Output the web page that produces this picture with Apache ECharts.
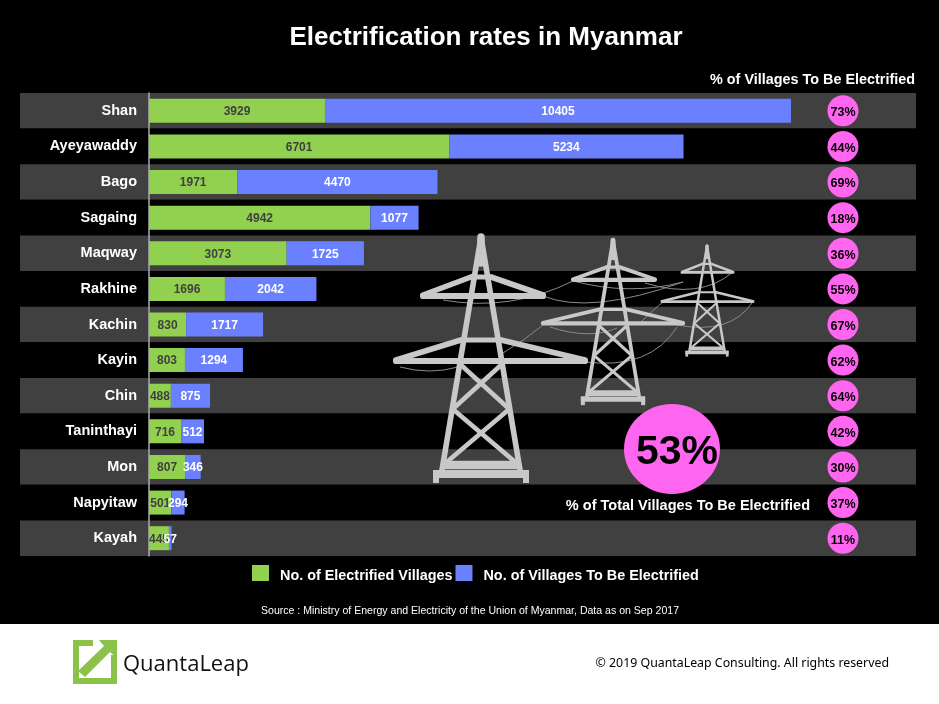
<!DOCTYPE html>
<html>
<head>
<meta charset="utf-8">
<title>Electrification rates in Myanmar</title>
<script src="https://cdn.jsdelivr.net/npm/echarts@6/dist/echarts.min.js"></script>
<style>
html,body{margin:0;padding:0;background:#000;}
#chart{width:939px;height:704px;}
</style>
</head>
<body>
<div id="chart"></div>
<script>
var regions = ['Shan','Ayeyawaddy','Bago','Sagaing','Maqway','Rakhine','Kachin','Kayin','Chin','Taninthayi','Mon','Napyitaw','Kayah'];
var electrified = [3929,6701,1971,4942,3073,1696,830,803,488,716,807,501,445];
var toElectrify = [10405,5234,4470,1077,1725,2042,1717,1294,875,512,346,294,57];
var pctToElectrify = [73,44,69,18,36,55,67,62,64,42,30,37,11];
var totalPct = 53;

var FONT = '"Liberation Sans", Arial, sans-serif';
var GREEN = '#92d050', BLUE = '#6a80ff', PINK = '#ff66f0', BAND = '#404040', TOWER = '#c8c8c8';
var PCT_COLUMN = 15495; // x position of the pink column, in axis units

// pylon: coordinates relative to apex at scale 1, arm tips given in screen px from apex
function tower(ax, ay, s, upL, upR, loL, loR) {
    var lw = 6.2 * s;
    var out = [];
    function ln(x1, y1, x2, y2, w) {
        out.push({type:'line', shape:{x1:ax+x1*s, y1:ay+y1*s, x2:ax+x2*s, y2:ay+y2*s},
            style:{stroke:TOWER, lineWidth:(w||1)*lw, lineCap:'round'}, z:1});
    }
    function arm(tipL, tipR, yb, ytop, hw) {
        ln(tipL/s, yb, tipR/s, yb, 1);
        ln(tipL/s, yb-1, -hw, ytop, .9);
        ln(tipR/s, yb-1, hw, ytop, .9);
        ln(-hw, ytop, hw, ytop, .8);
    }
    ln(0, 2, -39, 235, .9);
    ln(0, 2, 39, 235, .9);
    ln(0, 2, 0, 28, 1.2);
    arm(upL, upR, 61, 42, 10);
    arm(loL, loR, 126, 105, 20);
    // lattice
    ln(-20, 130, 26, 172, .75);
    ln(20, 130, -26, 172, .75);
    ln(-26, 176, 33, 226, .75);
    ln(26, 176, -33, 226, .75);
    ln(-36, 230, 36, 230, 1.4);
    out.push({type:'rect', shape:{x:ax-48*s, y:ay+235*s, width:96*s, height:8*s}, style:{fill:TOWER}, z:1});
    out.push({type:'rect', shape:{x:ax-48*s, y:ay+235*s, width:6*s, height:13*s}, style:{fill:TOWER}, z:1});
    out.push({type:'rect', shape:{x:ax+42*s, y:ay+235*s, width:6*s, height:13*s}, style:{fill:TOWER}, z:1});
    return out;
}

function wire(x1, y1, cx, cy, x2, y2) {
    return {type:'bezierCurve', shape:{x1:x1, y1:y1, x2:x2, y2:y2, cpx1:cx, cpy1:cy},
        style:{stroke:'#8a8a8a', lineWidth:1, fill:null}, z:1};
}

var graphics = [
    {type:'rect', shape:{x:0, y:624, width:939, height:80}, style:{fill:'#fff'}, z:1},
    wire(443,300, 510,312, 573,281),
    wire(543,296, 590,315, 683,282),
    wire(573,281, 630,296, 683,282),
    wire(645,283, 700,300, 733,272),
    wire(503,353, 525,340, 543,325),
    wire(400,367, 430,375, 458,367),
    wire(585,362, 650,370, 677,327),
    wire(550,327, 590,340, 617,328),
    wire(640,323, 655,308, 663,302),
    wire(677,325, 730,335, 752,303),
    // logo
    {type:'polyline', shape:{points:[[93,643],[76,643],[76,681],[114,681],[114,655]]}, style:{stroke:'#8cc24a', lineWidth:6, fill:null}, z:1},
    {type:'polygon', shape:{points:[[99,640],[117,640],[117,658],[110,652],[85,677],[78,671],[104,646]]}, style:{fill:'#8cc24a'}, z:1},
    {type:'text', style:{x:123, y:665, text:'QuantaLeap', fill:'#111', font:'22px "Open Sans", sans-serif', verticalAlign:'middle'}, z:1},
    {type:'text', style:{x:889, y:663, text:'\u00a9 2019 QuantaLeap Consulting. All rights reserved', fill:'#000', font:'12.35px "Noto Sans", sans-serif', align:'right', verticalAlign:'middle'}, z:1},
    // headers
    {type:'text', style:{x:915, y:80, text:'% of Villages To Be Electrified', fill:'#fff', font:'bold 14.4px ' + FONT, align:'right', verticalAlign:'middle'}, z:3},
    {type:'text', style:{x:810, y:506, text:'% of Total Villages To Be Electrified', fill:'#fff', font:'bold 14.5px ' + FONT, align:'right', verticalAlign:'middle'}, z:3},
    {type:'text', style:{x:470, y:611, text:'Source : Ministry of Energy and Electricity of the Union of Myanmar, Data as on Sep 2017', fill:'#fff', font:'10.55px ' + FONT, align:'center', verticalAlign:'middle'}, z:3},
    // big circle
    {type:'ellipse', shape:{cx:672, cy:449, rx:48, ry:45}, style:{fill:PINK}, z:3},
    {type:'text', style:{x:677, y:453, text:totalPct + '%', fill:'#000', font:'bold 41px ' + FONT, align:'center', verticalAlign:'middle'}, z:4}
];
graphics = graphics.concat(tower(481, 235, 1, -58, 62, -85, 104), tower(613, 239, 0.67, -40, 42, -70, 70), tower(707, 245, 0.45, -25, 26, -45, 46));

var chart = echarts.init(document.getElementById('chart'));
chart.setOption({
    backgroundColor: '#000',
    animation: false,
    title: {
        text: 'Electrification rates in Myanmar',
        left: 481, top: 20, textAlign: 'center',
        textStyle: {color:'#fff', fontFamily:FONT, fontWeight:'bold', fontSize:26}
    },
    legend: {
        left: 252, top: 565, padding: 0, itemWidth: 17, itemHeight: 16, itemGap: 3, icon: 'rect',
        data: ['No. of Electrified Villages', 'No. of Villages To Be Electrified'],
        formatter: function(name){ return '{t|' + name + '}'; },
        textStyle: {color:'#fff', padding:[0,0,0,6],
            rich:{t:{color:'#fff', fontFamily:FONT, fontWeight:'bold', fontSize:14.4, padding:[6,0,0,0]}}}
    },
    grid: [
        {left:20, top:93, width:896, height:463},
        {left:149, top:93, width:716.6, height:463}
    ],
    xAxis: [
        {gridIndex:0, type:'value', show:false},
        {gridIndex:1, type:'value', min:0, max:16000, show:false}
    ],
    yAxis: [
        {gridIndex:0, type:'category', data:regions, inverse:true,
         axisLine:{show:false}, axisTick:{show:false}, axisLabel:{show:false}, splitLine:{show:false},
         splitArea:{show:true, areaStyle:{color:[BAND,'#000']}}},
        {gridIndex:1, type:'category', data:regions, inverse:true,
         axisLine:{show:true, lineStyle:{color:'#aaa', width:1.5}}, axisTick:{show:false},
         axisLabel:{color:'#fff', fontFamily:FONT, fontWeight:'bold', fontSize:14.5, margin:12}}
    ],
    series: [
        {name:'No. of Electrified Villages', type:'bar', stack:'v', xAxisIndex:1, yAxisIndex:1, barWidth:24, data:electrified,
         itemStyle:{color:GREEN},
         label:{show:true, position:'inside', offset:[0,1], color:'#404040', fontFamily:FONT, fontWeight:'bold', fontSize:12}},
        {name:'No. of Villages To Be Electrified', type:'bar', stack:'v', xAxisIndex:1, yAxisIndex:1, barWidth:24, data:toElectrify,
         itemStyle:{color:BLUE},
         label:{show:true, position:'inside', offset:[0,1], color:'#fff', fontFamily:FONT, fontWeight:'bold', fontSize:12}},
        {type:'scatter', xAxisIndex:1, yAxisIndex:1, symbolSize:31, silent:true,
         data:pctToElectrify.map(function(p, i){ return [PCT_COLUMN, regions[i], p]; }),
         itemStyle:{color:PINK, opacity:1},
         label:{show:true, position:'inside', offset:[0,2], color:'#000', fontFamily:FONT, fontWeight:'bold', fontSize:12.5,
                formatter:function(o){ return o.value[2] + '%'; }}}
    ],
    graphic: graphics
});
</script>
</body>
</html>
